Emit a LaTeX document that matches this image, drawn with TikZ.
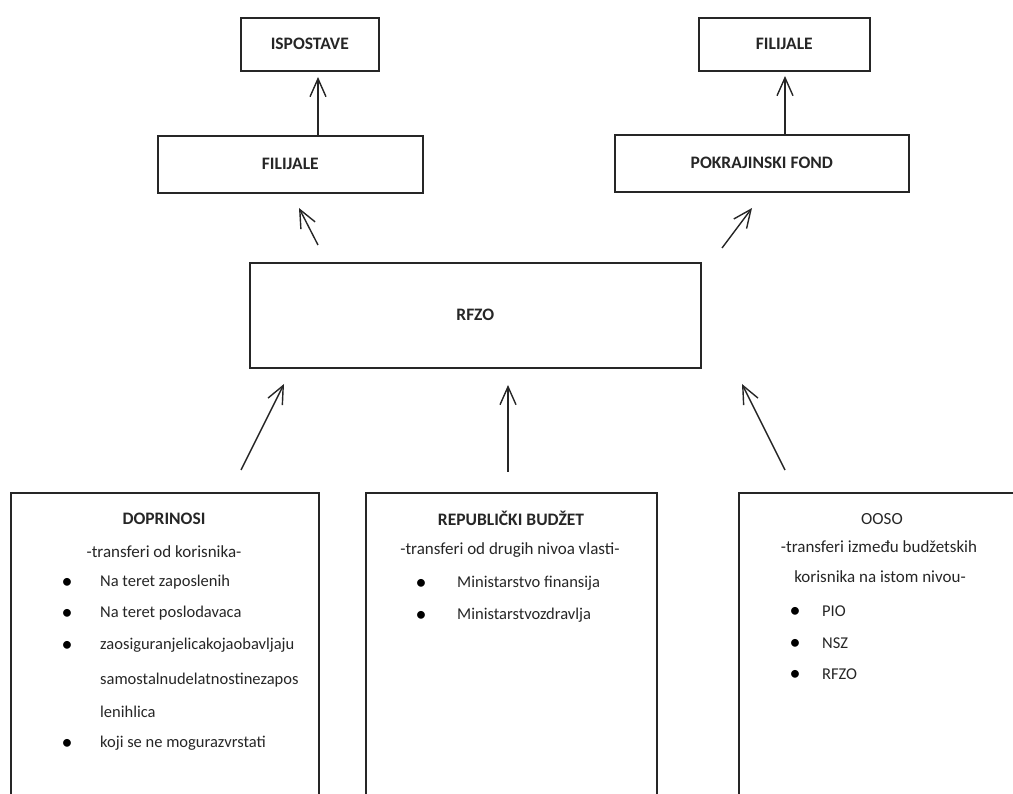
\documentclass[tikz,border=0pt]{standalone}
\usepackage{fontspec}
\setmainfont{Carlito}
\usetikzlibrary{arrows.meta}
\begin{document}
\begin{tikzpicture}[x=1pt,y=-1pt,
  box/.style={draw=black!85, line width=1.6pt, rectangle, inner sep=0pt, anchor=north west},
  lbl/.style={font=\fontsize{17.5}{19}\selectfont\bfseries, text=black!85},
  txt/.style={font=\fontsize{17}{19}\selectfont, text=black!85, inner sep=0pt},
  btxt/.style={font=\fontsize{17.5}{19}\selectfont\bfseries, text=black!85, inner sep=0pt},
  item/.style={font=\fontsize{16.5}{18}\selectfont, text=black!85, inner sep=0pt, anchor=west},
  dot/.style={font=\fontsize{22}{22}\selectfont, text=black, inner sep=0pt},
  arr/.style={-{Straight Barb[length=18pt,width=16pt,line width=1.4pt]}, line width=1.4pt, draw=black!85}]
\useasboundingbox (0,0) rectangle (1013,794);
\clip (0,0) rectangle (1013,794);

% top boxes
\node[box,lbl,minimum width=138pt,minimum height=53pt] (isp) at (240,17) {ISPOSTAVE};
\node[box,lbl,minimum width=171pt,minimum height=53pt] (filR) at (698,17) {FILIJALE};
\node[box,lbl,minimum width=265pt,minimum height=57pt] (filL) at (157,135) {FILIJALE};
\node[box,lbl,minimum width=294pt,minimum height=57pt] (pok) at (614,134) {POKRAJINSKI FOND};
\node[box,lbl,minimum width=451pt,minimum height=105pt] (rfzo) at (249,262) {RFZO};

% bottom boxes (cut off by the lower edge)
\node[box,minimum width=308pt,minimum height=400pt] (dop) at (10,492) {};
\node[box,minimum width=291pt,minimum height=400pt] (rep) at (365,492) {};
\node[box,minimum width=300pt,minimum height=400pt] (ooso) at (738,492) {};

% DOPRINOSI
\node[btxt] (dopT) at (164,519) {DOPRINOSI};
\node[txt] (dopS) at (164,552) {-transferi od korisnika-};
\node[dot] (d1) at (67,583) {•};
\node[item] (d1t) at (100,582) {Na teret zaposlenih};
\node[dot] (d2) at (67,614) {•};
\node[item] (d2t) at (100,613) {Na teret poslodavaca};
\node[dot] (d3) at (67,646) {•};
\node[item] (d3t) at (100,645) {zaosiguranjelicakojaobavljaju};
\node[item] (d3u) at (100,680) {samostalnudelatnostinezapos};
\node[item] (d3v) at (100,712) {lenihlica};
\node[dot] (d4) at (67,744) {•};
\node[item] (d4t) at (100,743) {koji se ne mogurazvrstati};

% REPUBLICKI BUDZET
\node[btxt] (repT) at (511,518) {REPUBLIČKI BUDŽET};
\node[txt] (repS) at (510,550) {-transferi od drugih nivoa vlasti-};
\node[dot] (r1) at (421,584) {•};
\node[item] (r1t) at (457,583) {Ministarstvo finansija};
\node[dot] (r2) at (421,616) {•};
\node[item] (r2t) at (457,615) {Ministarstvozdravlja};

% OOSO
\node[txt] (oosoT) at (882,519) {OOSO};
\node[txt] (oosoS) at (879,547) {-transferi između budžetskih};
\node[txt] (oosoU) at (880,577) {korisnika na istom nivou-};
\node[dot] (o1) at (795,612) {•};
\node[item] (o1t) at (822,611) {PIO};
\node[dot] (o2) at (795,644) {•};
\node[item] (o2t) at (822,643) {NSZ};
\node[dot] (o3) at (795,675) {•};
\node[item] (o3t) at (822,674) {RFZO};

% connector ends
\coordinate (fa) at (318,135);  \coordinate (fb) at (318,77);
\coordinate (pa) at (785,134);  \coordinate (pb) at (785,76);
\coordinate (la) at (318,245);  \coordinate (lb) at (299,208);
\coordinate (ra) at (722,248);  \coordinate (rb) at (752,208);
\coordinate (b1a) at (241,470); \coordinate (b1b) at (284,384);
\coordinate (b2a) at (508,472); \coordinate (b2b) at (508,385);
\coordinate (b3a) at (785,470); \coordinate (b3b) at (742,384);

\draw[arr] (fa) -- (fb);
\draw[arr] (pa) -- (pb);
\draw[arr] (la) -- (lb);
\draw[arr] (ra) -- (rb);
\draw[arr] (b1a) -- (b1b);
\draw[arr] (b2a) -- (b2b);
\draw[arr] (b3a) -- (b3b);
\end{tikzpicture}
\end{document}
